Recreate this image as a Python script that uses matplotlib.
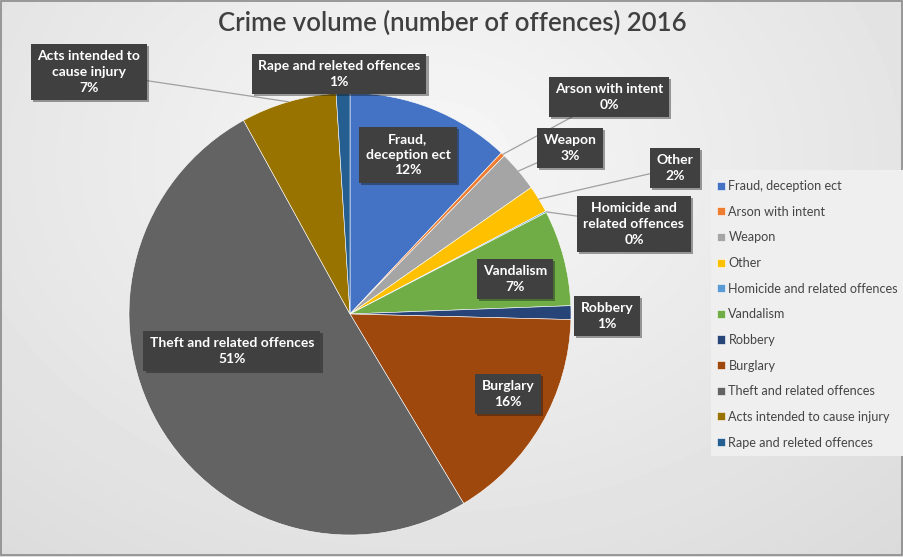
import numpy as np
import matplotlib
matplotlib.use("Agg")
import matplotlib.pyplot as plt
import matplotlib.patheffects as pe

plt.rcParams['font.family'] = ['Lato', 'DejaVu Sans']

W, H = 904, 557

categories = ["Fraud, deception ect", "Arson with intent", "Weapon", "Other",
              "Homicide and related offences", "Vandalism", "Robbery", "Burglary",
              "Theft and related offences", "Acts intended to cause injury",
              "Rape and releted offences"]
shares = [12, 0.3, 3, 2, 0.1, 7, 1, 16, 50.6, 7, 1]
box_names = ["Fraud,\ndeception ect", "Arson with intent", "Weapon", "Other",
             "Homicide and\nrelated offences", "Vandalism", "Robbery", "Burglary",
             "Theft and related offences", "Acts intended to\ncause injury",
             "Rape and releted offences"]
colors = ["#4472C4", "#ED7D31", "#A5A5A5", "#FFC000", "#5B9BD5", "#70AD47",
          "#264478", "#9E480E", "#636363", "#997300", "#255E91"]

# label box centres in pixels (x, y from top) and whether a leader line is drawn
box_pos = [(408, 155), (609, 97), (570, 148), (675, 168), (634, 224), (515, 279),
           (607, 316), (508, 394), (232, 351), (89, 72), (339, 74)]
leaders = [False, True, True, True, True, False, False, False, False, True, False]

CX, CY, R = 350, 314, 221

fig = plt.figure(figsize=(W / 100, H / 100), dpi=100)

# background gradient
bg = fig.add_axes([0, 0, 1, 1])
yy, xx = np.mgrid[0:H, 0:W]
d = np.sqrt(((xx - 430) / 750.0) ** 2 + ((yy - 160) / 560.0) ** 2)
shade = 0.97 - 0.12 * np.clip(d, 0, 1.3)
bg.imshow(shade, cmap="gray", vmin=0, vmax=1, extent=[0, W, H, 0], aspect="auto")
bg.set_xlim(0, W)
bg.set_ylim(H, 0)
bg.add_patch(plt.Rectangle((1, 1), W - 3, H - 3, fill=False, ec="#8a8a8a", lw=1.2))
bg.axis("off")

# legend panel
bg.add_patch(plt.Rectangle((711, 170), 192, 286, fc="#efefef", ec="none"))

fig.text(452 / W, 1 - 23 / H, "Crime volume (number of offences) 2016", ha="center",
         va="center", fontsize=18.5, color="#404040", fontweight="semibold")

ax = fig.add_axes([(CX - R) / W, (H - CY - R) / H, 2 * R / W, 2 * R / H])
wedges, _ = ax.pie(shares, colors=colors, startangle=90, counterclock=False,
                   radius=1, wedgeprops=dict(edgecolor="white", linewidth=0.4))
ax.set_xlim(-1, 1)
ax.set_ylim(-1, 1)

total = sum(shares)
for w, name, val, (px, py), lead in zip(wedges, box_names, shares, box_pos, leaders):
    txt = f"{name}\n{round(val / total * 100)}%"
    tx = (px - CX) / R
    ty = (CY - py) / R
    mid = np.deg2rad((w.theta1 + w.theta2) / 2)
    style = dict(ha="center", va="center", fontsize=10, fontweight="bold",
                 color="white", linespacing=1.35,
                 bbox=dict(boxstyle="square,pad=0.45", fc="#404040", ec="none"))
    if lead:
        t = ax.annotate(txt, xy=(np.cos(mid), np.sin(mid)), xytext=(tx, ty),
                        annotation_clip=False,
                        arrowprops=dict(arrowstyle="-", color="#a0a0a0", lw=0.9,
                                        shrinkA=0, shrinkB=0), **style)
    else:
        t = ax.text(tx, ty, txt, clip_on=False, **style)
    t.get_bbox_patch().set_path_effects([pe.SimplePatchShadow(offset=(1.5, -1.5), alpha=0.4),
                                        pe.Normal()])

leg = fig.legend(wedges, categories, loc="upper left",
                 bbox_to_anchor=(712 / W, 1 - 175 / H), frameon=False,
                 fontsize=9.1, labelcolor="#454545", handlelength=0.6,
                 handleheight=0.6, handletextpad=0.3, labelspacing=1.08,
                 borderaxespad=0)

fig.savefig("out.png", dpi=100)
